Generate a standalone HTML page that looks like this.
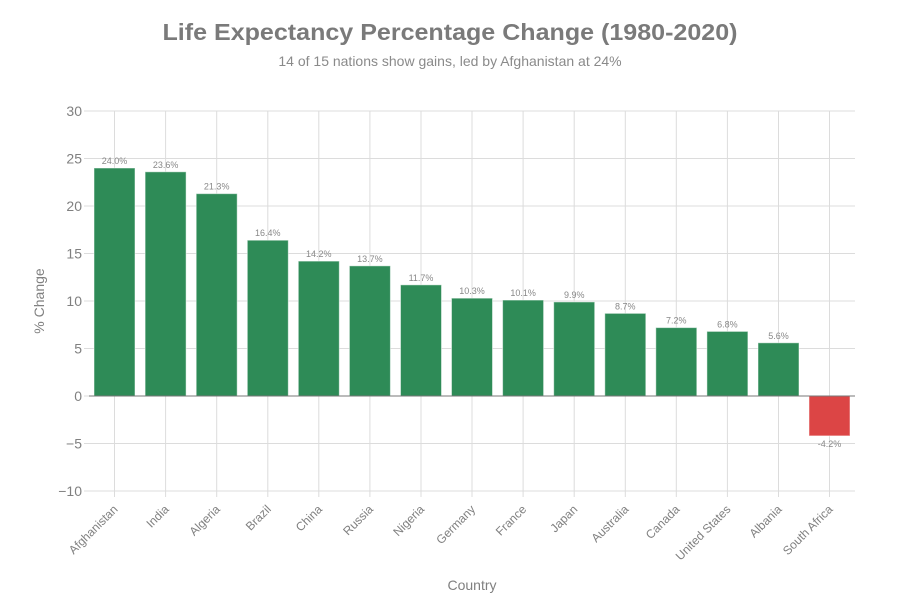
<!DOCTYPE html>
<html><head><meta charset="utf-8"><style>body{margin:0;background:#fff}svg{display:block;font-family:"Liberation Sans",sans-serif}</style></head><body>
<svg width="900" height="600" xmlns="http://www.w3.org/2000/svg">
<text x="450" y="40" text-anchor="middle" font-size="23" font-weight="bold" fill="#7a7a7a" textLength="575" lengthAdjust="spacingAndGlyphs">Life Expectancy Percentage Change (1980-2020)</text>
<text x="450" y="66" text-anchor="middle" font-size="14" fill="#8a8a8a">14 of 15 nations show gains, led by Afghanistan at 24%</text>
<g stroke="#dcdcdc" stroke-width="1">
<line x1="89" x2="855" y1="111" y2="111"/><line x1="89" x2="855" y1="158.5" y2="158.5"/><line x1="89" x2="855" y1="206" y2="206"/><line x1="89" x2="855" y1="253.5" y2="253.5"/><line x1="89" x2="855" y1="301" y2="301"/><line x1="89" x2="855" y1="348.5" y2="348.5"/><line x1="89" x2="855" y1="443.5" y2="443.5"/><line x1="89" x2="855" y1="491" y2="491"/>
<line x1="84" x2="89" y1="111" y2="111"/><line x1="84" x2="89" y1="158.5" y2="158.5"/><line x1="84" x2="89" y1="206" y2="206"/><line x1="84" x2="89" y1="253.5" y2="253.5"/><line x1="84" x2="89" y1="301" y2="301"/><line x1="84" x2="89" y1="348.5" y2="348.5"/><line x1="84" x2="89" y1="396" y2="396"/><line x1="84" x2="89" y1="443.5" y2="443.5"/><line x1="84" x2="89" y1="491" y2="491"/>
<line x1="114.5" x2="114.5" y1="111" y2="497"/><line x1="165.6" x2="165.6" y1="111" y2="497"/><line x1="216.7" x2="216.7" y1="111" y2="497"/><line x1="267.8" x2="267.8" y1="111" y2="497"/><line x1="318.8" x2="318.8" y1="111" y2="497"/><line x1="369.9" x2="369.9" y1="111" y2="497"/><line x1="421" x2="421" y1="111" y2="497"/><line x1="472" x2="472" y1="111" y2="497"/><line x1="523.1" x2="523.1" y1="111" y2="497"/><line x1="574.2" x2="574.2" y1="111" y2="497"/><line x1="625.3" x2="625.3" y1="111" y2="497"/><line x1="676.3" x2="676.3" y1="111" y2="497"/><line x1="727.4" x2="727.4" y1="111" y2="497"/><line x1="778.5" x2="778.5" y1="111" y2="497"/><line x1="829.5" x2="829.5" y1="111" y2="497"/>
</g>
<g font-size="14" fill="#808080" text-anchor="end">
<text x="82" y="116">30</text><text x="82" y="163.5">25</text><text x="82" y="211">20</text><text x="82" y="258.5">15</text><text x="82" y="306">10</text><text x="82" y="353.5">5</text><text x="82" y="401">0</text><text x="82" y="448.5">−5</text><text x="82" y="496">−10</text>
</g>
<g fill="#2e8b57" stroke="#fff" stroke-opacity="0.5">
<rect x="94" y="168" width="41" height="228"/>
<rect x="145.1" y="171.8" width="41" height="224.2"/>
<rect x="196.2" y="193.65" width="41" height="202.35"/>
<rect x="247.3" y="240.2" width="41" height="155.8"/>
<rect x="298.3" y="261.1" width="41" height="134.9"/>
<rect x="349.4" y="265.85" width="41" height="130.15"/>
<rect x="400.5" y="284.85" width="41" height="111.15"/>
<rect x="451.5" y="298.15" width="41" height="97.85"/>
<rect x="502.6" y="300.05" width="41" height="95.95"/>
<rect x="553.7" y="301.95" width="41" height="94.05"/>
<rect x="604.8" y="313.35" width="41" height="82.65"/>
<rect x="655.8" y="327.6" width="41" height="68.4"/>
<rect x="706.9" y="331.4" width="41" height="64.6"/>
<rect x="758" y="342.8" width="41" height="53.2"/>
<rect x="809" y="396" width="41" height="39.9" fill="#dc4545"/>
</g>
<g font-size="9" fill="#888" text-anchor="middle">
<text x="114.5" y="164">24.0%</text><text x="165.6" y="167.8">23.6%</text><text x="216.7" y="189.6">21.3%</text><text x="267.8" y="236.2">16.4%</text><text x="318.8" y="257.1">14.2%</text><text x="369.9" y="261.8">13.7%</text><text x="421" y="280.8">11.7%</text><text x="472" y="294.1">10.3%</text><text x="523.1" y="296">10.1%</text><text x="574.2" y="297.9">9.9%</text><text x="625.3" y="309.3">8.7%</text><text x="676.3" y="323.6">7.2%</text><text x="727.4" y="327.4">6.8%</text><text x="778.5" y="338.8">5.6%</text><text x="829.5" y="447">-4.2%</text>
</g>
<line x1="89" x2="855" y1="396" y2="396" stroke="#777" stroke-width="1"/>
<g font-size="12" fill="#808080" text-anchor="end">
<text transform="translate(118.5,510) rotate(-45)">Afghanistan</text>
<text transform="translate(169.6,510) rotate(-45)">India</text>
<text transform="translate(220.7,510) rotate(-45)">Algeria</text>
<text transform="translate(271.8,510) rotate(-45)">Brazil</text>
<text transform="translate(322.8,510) rotate(-45)">China</text>
<text transform="translate(373.9,510) rotate(-45)">Russia</text>
<text transform="translate(425,510) rotate(-45)">Nigeria</text>
<text transform="translate(476,510) rotate(-45)">Germany</text>
<text transform="translate(527.1,510) rotate(-45)">France</text>
<text transform="translate(578.2,510) rotate(-45)">Japan</text>
<text transform="translate(629.3,510) rotate(-45)">Australia</text>
<text transform="translate(680.3,510) rotate(-45)">Canada</text>
<text transform="translate(731.4,510) rotate(-45)">United States</text>
<text transform="translate(782.5,510) rotate(-45)">Albania</text>
<text transform="translate(833.5,510) rotate(-45)">South Africa</text>
</g>
<text transform="translate(44,301) rotate(-90)" text-anchor="middle" font-size="14" fill="#808080">% Change</text>
<text x="472" y="590" text-anchor="middle" font-size="14" fill="#808080">Country</text>
</svg>
</body></html>
